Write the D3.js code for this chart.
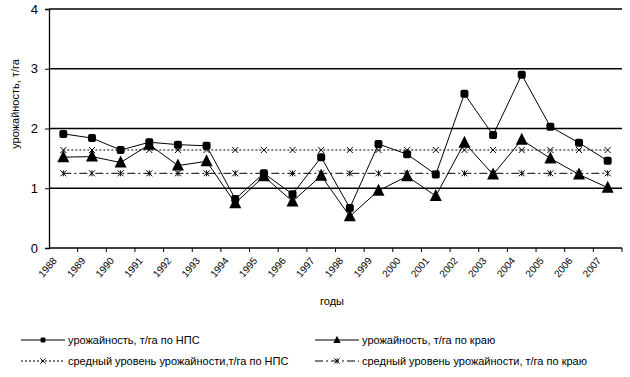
<!DOCTYPE html>
<html>
<head>
<meta charset="utf-8">
<script src="https://cdn.jsdelivr.net/npm/d3@7"></script>
<style>
  body { margin: 0; background: #fff; }
  svg { font-family: "Liberation Sans", Arial, sans-serif; }
</style>
</head>
<body>
<div id="chart"></div>
<script>
// == DATA == //
const years = ["1988", "1989", "1990", "1991", "1992", "1993", "1994", "1995", "1996", "1997",
               "1998", "1999", "2000", "2001", "2002", "2003", "2004", "2005", "2006", "2007"];
const yieldNps = [1.91, 1.84, 1.64, 1.77, 1.73, 1.71, 0.82, 1.25, 0.90, 1.52,
                  0.67, 1.74, 1.57, 1.23, 2.58, 1.89, 2.90, 2.03, 1.76, 1.46];
const yieldKrai = [1.52, 1.53, 1.43, 1.73, 1.38, 1.45, 0.75, 1.20, 0.78, 1.21,
                   0.53, 0.96, 1.20, 0.87, 1.76, 1.23, 1.81, 1.50, 1.23, 1.01];
const avgNps = [1.64, 1.64, 1.64, 1.64, 1.64, 1.64, 1.64, 1.64, 1.64, 1.64,
                1.64, 1.64, 1.64, 1.64, 1.64, 1.64, 1.64, 1.64, 1.64, 1.64];
const avgKrai = [1.25, 1.25, 1.25, 1.25, 1.25, 1.25, 1.25, 1.25, 1.25, 1.25,
                 1.25, 1.25, 1.25, 1.25, 1.25, 1.25, 1.25, 1.25, 1.25, 1.25];
const yTicks = [0, 1, 2, 3, 4];
const seriesNames = [
    "урожайность, т/га по НПС",
    "урожайность, т/га по краю",
    "средный уровень урожайности,т/га по НПС",
    "средный уровень урожайности, т/га по краю"
];

const width = 630, height = 377;
const margin = {top: 9, right: 8, bottom: 129, left: 49};

const svg = d3.select("#chart").append("svg")
    .attr("width", width)
    .attr("height", height);

// scales
const x = d3.scaleBand()
    .domain(years)
    .range([margin.left, width - margin.right]);

const y = d3.scaleLinear()
    .domain([0, 4])
    .range([height - margin.bottom, margin.top]);

const cx = d => x(d) + x.bandwidth() / 2;

// gridlines
svg.append("g")
    .selectAll("line")
    .data(yTicks.filter(t => t > 0))
    .enter().append("line")
    .attr("x1", margin.left)
    .attr("x2", width - margin.right)
    .attr("y1", d => y(d))
    .attr("y2", d => y(d))
    .attr("stroke", "#000")
    .attr("stroke-width", 1.3);

// y axis
const yAxis = svg.append("g")
    .attr("transform", `translate(${margin.left},0)`)
    .call(d3.axisLeft(y).tickValues(yTicks).tickSize(4).tickPadding(7).tickFormat(d3.format("d")));
yAxis.select(".domain").attr("stroke-width", 1.3);
yAxis.selectAll("text").attr("font-size", 13).attr("fill", "#000");

// x axis with ticks on category boundaries
const xAxis = svg.append("g")
    .attr("transform", `translate(0,${y(0)})`);
xAxis.append("line")
    .attr("x1", margin.left)
    .attr("x2", width - margin.right)
    .attr("stroke", "#000")
    .attr("stroke-width", 1.3);
xAxis.selectAll(".tk")
    .data(years)
    .enter().append("line")
    .attr("class", "tk")
    .attr("x1", d => x(d) + x.bandwidth())
    .attr("x2", d => x(d) + x.bandwidth())
    .attr("y1", 0)
    .attr("y2", 4)
    .attr("stroke", "#000");
xAxis.selectAll(".lbl")
    .data(years)
    .enter().append("text")
    .attr("class", "lbl")
    .attr("text-anchor", "end")
    .attr("font-size", 10)
    .attr("transform", d => `translate(${cx(d) - 6},${13}) rotate(-50)`)
    .text(d => d);

// axis titles
svg.append("text")
    .attr("transform", `translate(19,104) rotate(-90)`)
    .attr("text-anchor", "middle")
    .attr("font-size", 11)
    .text("урожайность, т/га");

svg.append("text")
    .attr("x", 332)
    .attr("y", 305)
    .attr("text-anchor", "middle")
    .attr("font-size", 11)
    .text("годы");

// == LINES == //
const line = d3.line()
    .x(d => cx(d.year))
    .y(d => y(d.value));

const toPoints = arr => years.map((yr, i) => ({year: yr, value: arr[i]}));

const series = [
    {data: avgNps, dash: "2,2", marker: "x"},
    {data: avgKrai, dash: "8,3,2,3", marker: "star"},
    {data: yieldNps, dash: null, marker: "square"},
    {data: yieldKrai, dash: null, marker: "triangle"}
];

// s = marker scale (legend uses smaller ones)
function drawMarker(g, type, px, py, s = 1) {
    const t = `translate(${px},${py}) scale(${s})`;
    if (type === "square") {
        g.append("rect")
            .attr("transform", t)
            .attr("x", -4).attr("y", -4)
            .attr("width", 8).attr("height", 8)
            .attr("rx", 2)
            .attr("fill", "#000");
    } else if (type === "triangle") {
        g.append("path")
            .attr("transform", t)
            .attr("d", "M0,-7L6,5L-6,5Z")
            .attr("fill", "#000");
    } else if (type === "x") {
        g.append("path")
            .attr("transform", t)
            .attr("d", "M-3,-3L3,3M3,-3L-3,3")
            .attr("stroke", "#000")
            .attr("fill", "none");
    } else if (type === "star") {
        g.append("path")
            .attr("transform", t)
            .attr("d", "M-3,-3L3,3M3,-3L-3,3M0,-3L0,3")
            .attr("stroke", "#000")
            .attr("fill", "none");
    }
}

series.forEach(s => {
    const pts = toPoints(s.data);
    svg.append("path")
        .datum(pts)
        .attr("d", line)
        .attr("fill", "none")
        .attr("stroke", "#000")
        .attr("stroke-width", 1)
        .attr("stroke-dasharray", s.dash);
    const g = svg.append("g");
    pts.forEach(p => drawMarker(g, s.marker, cx(p.year), y(p.value)));
});

// == LEGEND == //
const legendItems = [
    {name: seriesNames[0], dash: null, marker: "square", x: 21, y: 340},
    {name: seriesNames[1], dash: null, marker: "triangle", x: 315, y: 340},
    {name: seriesNames[2], dash: "2,2", marker: "x", x: 21, y: 361},
    {name: seriesNames[3], dash: "8,3,2,3", marker: "star", x: 315, y: 361}
];

const legend = svg.append("g").attr("class", "legend");
legendItems.forEach(it => {
    legend.append("line")
        .attr("x1", it.x).attr("x2", it.x + 44)
        .attr("y1", it.y).attr("y2", it.y)
        .attr("stroke", "#000")
        .attr("stroke-dasharray", it.dash);
    const sc = it.marker === "square" || it.marker === "triangle" ? 0.6 : 0.9;
    drawMarker(legend, it.marker, it.x + 22, it.y, sc);
    legend.append("text")
        .attr("x", it.x + 47)
        .attr("y", it.y + 4)
        .attr("font-size", 11)
        .text(it.name);
});
</script>
</body>
</html>
